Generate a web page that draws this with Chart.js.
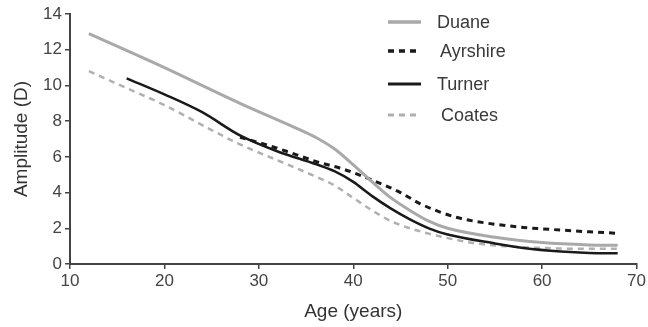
<!DOCTYPE html>
<html>
<head>
<meta charset="utf-8">
<script src="https://cdn.jsdelivr.net/npm/chart.js@4/dist/chart.umd.min.js"></script>
<style>
  html, body { margin: 0; padding: 0; background: #fff; }
  #wrap { width: 648px; height: 327px; position: relative; }
</style>
</head>
<body>
<div id="wrap"><canvas id="ampChart"></canvas></div>
<script>
// accommodation amplitude vs age
const duaneAge = [12, 20, 28, 34, 36, 38, 40, 42, 44, 46, 48, 50, 55, 60, 65, 68];
const duaneAmp = [12.9, 11.0, 9.0, 7.6, 7.1, 6.45, 5.55, 4.6, 3.7, 3.0, 2.4, 2.0, 1.5, 1.2, 1.07, 1.05];

const ayrshireAge = [28, 30, 33, 36, 39, 42, 45, 47, 49, 51, 54, 58, 62, 65, 68];
const ayrshireAmp = [7.1, 6.8, 6.3, 5.75, 5.3, 4.7, 4.0, 3.4, 2.95, 2.6, 2.3, 2.05, 1.9, 1.8, 1.72];

const turnerAge = [16, 20, 24, 28, 32, 36, 38, 40, 42, 44, 46, 48, 50, 55, 58, 62, 65, 68];
const turnerAmp = [10.4, 9.5, 8.5, 7.2, 6.3, 5.6, 5.2, 4.6, 3.8, 3.1, 2.5, 2.0, 1.65, 1.15, 0.9, 0.7, 0.62, 0.6];

const coatesAge = [12, 16, 20, 25, 28, 32, 36, 38, 40, 42, 44, 46, 48, 50, 53, 56, 60, 64, 68];
const coatesAmp = [10.8, 9.85, 8.9, 7.5, 6.7, 5.8, 4.9, 4.4, 3.7, 3.0, 2.4, 2.0, 1.7, 1.45, 1.15, 1.0, 0.9, 0.85, 0.85];

const xTicks = [10, 20, 30, 40, 50, 60, 70];
const yTicks = [0, 2, 4, 6, 8, 10, 12, 14];

const pts = (xs, ys) => xs.map((x, i) => ({ x, y: ys[i] }));

// legend drawn at top right, one row per series
const sideLegend = {
  id: 'sideLegend',
  afterDraw(chart) {
    const c = chart.ctx;
    const rows = [22, 51, 84, 115];
    const textX = [437, 440, 437, 441];
    chart.data.datasets.forEach((ds, i) => {
      c.save();
      c.strokeStyle = ds.borderColor;
      c.lineWidth = ds.borderWidth + 0.5;
      c.setLineDash(ds.borderDash || []);
      c.beginPath();
      c.moveTo(388, rows[i]);
      c.lineTo(421, rows[i]);
      c.stroke();
      c.setLineDash([]);
      c.fillStyle = '#3a3a3a';
      c.font = '18px "Liberation Sans", Arial, sans-serif';
      c.textBaseline = 'middle';
      c.fillText(ds.label, textX[i], rows[i] + 1);
      c.restore();
    });
  }
};

const tickFont = { size: 17, family: '"Liberation Sans", Arial' };
const titleFont = { size: 19, family: '"Liberation Sans", Arial' };

new Chart(document.getElementById('ampChart'), {
  type: 'line',
  data: {
    datasets: [{
      label: 'Duane',
      data: pts(duaneAge, duaneAmp),
      borderColor: '#a9a9a9',
      borderWidth: 3
    }, {
      label: 'Ayrshire',
      data: pts(ayrshireAge, ayrshireAmp),
      borderColor: '#1a1a1a',
      borderWidth: 3,
      borderDash: [6, 5]
    }, {
      label: 'Turner',
      data: pts(turnerAge, turnerAmp),
      borderColor: '#1a1a1a',
      borderWidth: 2.5
    }, {
      label: 'Coates',
      data: pts(coatesAge, coatesAmp),
      borderColor: '#b0b0b0',
      borderWidth: 2.5,
      borderDash: [6, 5]
    }]
  },
  options: {
    responsive: true,
    maintainAspectRatio: false,
    animation: false,
    elements: { point: { radius: 0 }, line: { cubicInterpolationMode: 'monotone', fill: false } },
    layout: { padding: { top: 14, right: 10, left: 0, bottom: 0 } },
    plugins: { legend: { display: false }, tooltip: { enabled: false } },
    scales: {
      x: {
        type: 'linear', min: 10, max: 70,
        afterBuildTicks: s => { s.ticks = xTicks.map(v => ({ value: v })); },
        afterFit: s => { s.height = 63; },
        ticks: { color: '#444', font: tickFont, padding: 2, maxRotation: 0 },
        grid: { drawOnChartArea: false, tickLength: 5, color: '#444', lineWidth: 1.5 },
        border: { color: '#444', width: 2 },
        title: { display: true, text: 'Age (years)', color: '#333', font: titleFont, padding: { top: 2 } }
      },
      y: {
        min: 0, max: 14,
        afterBuildTicks: s => { s.ticks = yTicks.map(v => ({ value: v })); },
        afterFit: s => { s.width = 70; },
        ticks: { color: '#444', font: tickFont, padding: 3 },
        grid: { drawOnChartArea: false, tickLength: 5, color: '#444', lineWidth: 1.5 },
        border: { color: '#444', width: 2 },
        title: { display: true, text: 'Amplitude (D)', color: '#333', font: titleFont, padding: { top: 10, bottom: 2 } }
      }
    }
  },
  plugins: [sideLegend]
});
</script>
</body>
</html>
